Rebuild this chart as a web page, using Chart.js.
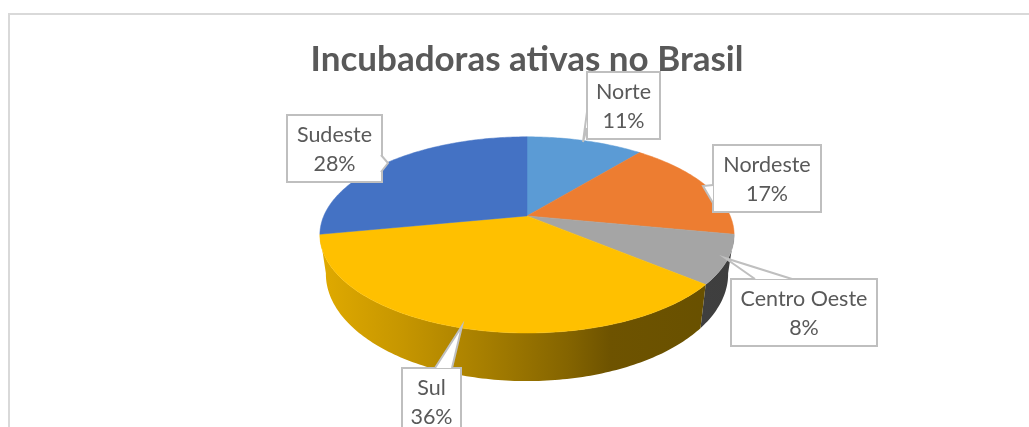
<!DOCTYPE html>
<html lang="pt">
<head>
<meta charset="utf-8">
<title>Incubadoras ativas no Brasil</title>
<script src="https://cdn.jsdelivr.net/npm/chart.js@4/dist/chart.umd.min.js"></script>
<style>
html,body{margin:0;padding:0;background:#fff;overflow:hidden}
#wrap{position:relative;width:1029px;height:427px}
canvas{display:block}
</style>
</head>
<body>
<div id="wrap"><canvas id="c" width="1029" height="427"></canvas></div>
<script>
const chartTitle = 'Incubadoras ativas no Brasil';
const categories = ['Norte', 'Nordeste', 'Centro Oeste', 'Sul', 'Sudeste'];
const shares = [11, 17, 8, 36, 28];
const sliceColors = ['#5B9BD5', '#ED7D31', '#A5A5A5', '#FFC000', '#4472C4'];

// Perspective projection of the pie's circle (relative to Chart.js' arc radius)
const projection = { k: -0.194, sx: 1.637, sy: 0.7605 };
// Geometry of the rim's lower edge, relative to the top ellipse
const rim = { topCy: 18, topRx: 207, topRy: 98, botCy: 57, botRx: 201, botRy: 107 };

// Callout boxes: [left, top, width, height], pointer [base1, tip, base2]
const callouts = {
  'Norte':        { box: [587, 72, 73, 67],   ptr: [[587, 112], [583, 142], [587, 128]] },
  'Nordeste':     { box: [713, 145, 108, 67], ptr: [[713, 185], [703, 186], [713, 203]] },
  'Centro Oeste': { box: [731, 279, 146, 67], ptr: [[755, 279], [725, 258], [792, 279]] },
  'Sul':          { box: [402, 368, 59, 67],  ptr: [[435, 368], [462, 326], [452, 368]] },
  'Sudeste':      { box: [287, 115, 95, 67],  ptr: [[381, 155], [388, 163], [381, 172]] }
};

function pt(arc, a) {
  const X = Math.cos(a), Y = Math.sin(a);
  const d = 1 + projection.k * Y, r = arc.outerRadius;
  return [arc.x + r * projection.sx * X / d, arc.y + r * projection.sy * Y / d];
}
function lower(arc, p) {
  const u = (p[0] - arc.x) / rim.topRx, v = (p[1] - arc.y - rim.topCy) / rim.topRy;
  return [arc.x + rim.botRx * u, arc.y + rim.botCy + rim.botRy * v];
}
function edge(arc) {
  const n = Math.max(4, Math.ceil((arc.endAngle - arc.startAngle) * 60)), out = [];
  for (let i = 0; i <= n; i++) out.push(pt(arc, arc.startAngle + (arc.endAngle - arc.startAngle) * i / n));
  return out;
}

const pie3d = {
  id: 'pie3d',
  beforeDatasetsDraw(chart) {
    const ctx = chart.ctx, arcs = chart.getDatasetMeta(0).data;
    // rim: only the slices that face the viewer
    arcs.forEach((arc, i) => {
      if (Math.sin((arc.startAngle + arc.endAngle) / 2) <= 0) return;
      const e = edge(arc);
      ctx.beginPath();
      e.forEach((p, j) => j ? ctx.lineTo(p[0], p[1]) : ctx.moveTo(p[0], p[1]));
      e.slice().reverse().forEach(p => { const q = lower(arc, p); ctx.lineTo(q[0], q[1]); });
      ctx.closePath();
      const g = ctx.createLinearGradient(320, 0, 734, 0);
      if (categories[i] === 'Sul') {
        g.addColorStop(0, '#E0AA00');
        g.addColorStop(0.2, '#C69600');
        g.addColorStop(0.4, '#A67E00');
        g.addColorStop(0.6, '#846400');
        g.addColorStop(0.7, '#6E5300');
        g.addColorStop(1, '#675000');
      } else {
        g.addColorStop(0, '#4A4A4A');
        g.addColorStop(1, '#3E3E3E');
      }
      ctx.fillStyle = g;
      ctx.fill();
    });
    // top surface
    arcs.forEach((arc, i) => {
      const e = edge(arc);
      ctx.beginPath();
      ctx.moveTo(arc.x, arc.y);
      e.forEach(p => ctx.lineTo(p[0], p[1]));
      ctx.closePath();
      ctx.fillStyle = sliceColors[i];
      ctx.strokeStyle = sliceColors[i];
      ctx.lineWidth = 0.5;
      ctx.fill();
      ctx.stroke();
    });
    return false;
  },
  beforeDatasetDraw() { return false; },
  afterDraw(chart) {
    const ctx = chart.ctx;
    categories.forEach((name, i) => {
      const c = callouts[name], b = c.box;
      ctx.beginPath();
      ctx.rect(b[0], b[1], b[2], b[3]);
      ctx.fillStyle = '#fff';
      ctx.fill();
      ctx.strokeStyle = '#BFBFBF';
      ctx.lineWidth = 2;
      ctx.stroke();
      // pointer: white wedge over the box edge, outlined on its two sides
      ctx.beginPath();
      ctx.moveTo(c.ptr[0][0], c.ptr[0][1]);
      ctx.lineTo(c.ptr[1][0], c.ptr[1][1]);
      ctx.lineTo(c.ptr[2][0], c.ptr[2][1]);
      ctx.closePath();
      ctx.fill();
      ctx.beginPath();
      ctx.moveTo(c.ptr[0][0], c.ptr[0][1]);
      ctx.lineTo(c.ptr[1][0], c.ptr[1][1]);
      ctx.lineTo(c.ptr[2][0], c.ptr[2][1]);
      ctx.stroke();
      ctx.fillStyle = '#595959';
      ctx.font = '400 21.5px Lato, sans-serif';
      ctx.textAlign = 'center';
      ctx.textBaseline = 'alphabetic';
      const mx = b[0] + b[2] / 2, my = b[1] + b[3] / 2;
      ctx.fillText(name, mx, my - 7);
      ctx.fillText(shares[i] + '%', mx, my + 22);
    });
  }
};

const frame = {
  id: 'frame',
  beforeDraw(chart) {
    const ctx = chart.ctx;
    ctx.fillStyle = '#fff';
    ctx.fillRect(0, 0, chart.width, chart.height);
    ctx.strokeStyle = '#D9D9D9';
    ctx.lineWidth = 2;
    ctx.strokeRect(9, 14, 1100, 500);
  }
};

const canvas = document.getElementById('c');
// tiny tracking keeps the "ti" pair from turning into a ligature
canvas.getContext('2d').letterSpacing = '0.01px';

new Chart(canvas, {
  type: 'pie',
  data: {
    labels: categories,
    datasets: [{ data: shares, backgroundColor: sliceColors, borderWidth: 0 }]
  },
  options: {
    responsive: false,
    animation: false,
    layout: { padding: { left: 25, right: 0, top: 28, bottom: 87 } },
    plugins: {
      legend: { display: false },
      tooltip: { enabled: false },
      title: {
        display: true,
        text: chartTitle,
        color: '#595959',
        font: { family: 'Lato, sans-serif', size: 35, weight: '700', lineHeight: 1.25 },
        padding: { top: 10, bottom: 10 }
      }
    }
  },
  plugins: [frame, pie3d]
});
</script>
</body>
</html>
